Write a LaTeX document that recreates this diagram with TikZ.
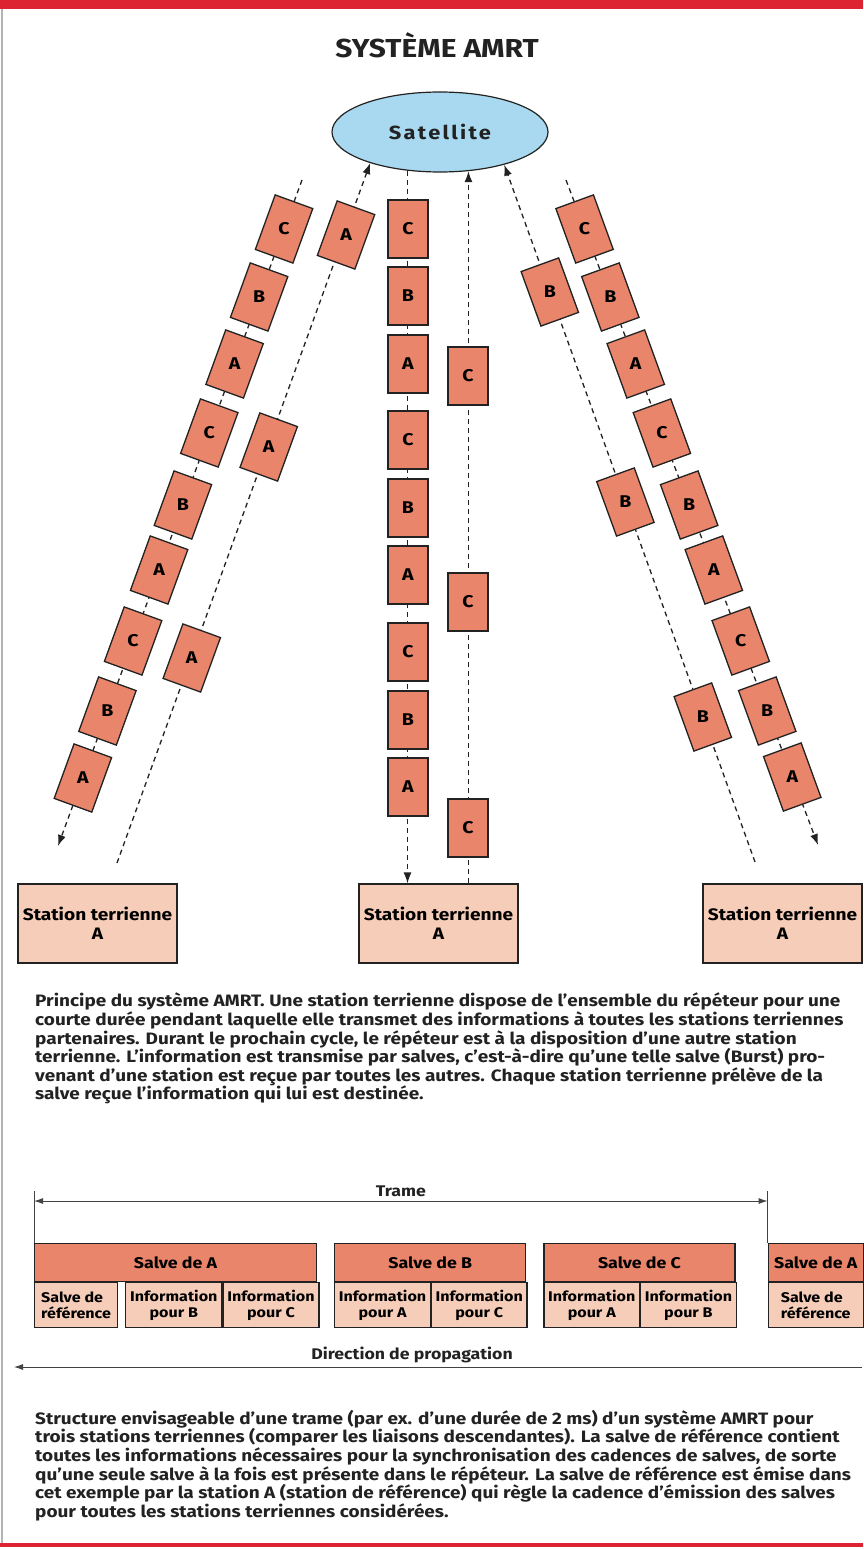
\documentclass[tikz,border=0pt]{standalone}
\usepackage{fontspec}
\setmainfont{Fira Sans}[FakeStretch=1.15]
\usetikzlibrary{arrows.meta, positioning, shapes.geometric, calc}
\definecolor{burstred}{HTML}{E8856B}
\definecolor{peach}{HTML}{F6CDB8}
\definecolor{skyblue}{HTML}{A9D9F0}
\definecolor{bandred}{HTML}{DD2332}
\definecolor{ink}{HTML}{222222}

\begin{document}
\begin{tikzpicture}[x=1pt, y=-1pt,
    burst/.style={
      rectangle,
      draw=ink,
      line width=1.3pt,
      fill=burstred,
      minimum width=40pt,
      minimum height=58pt,
      inner sep=0pt,
      font=\fontsize{17}{17}\selectfont\bfseries
    },
    burstL/.style={burst, rotate=-20},
    burstR/.style={burst, rotate=20},
    station/.style={
      rectangle,
      draw=ink,
      line width=1.3pt,
      fill=peach,
      minimum width=159pt,
      minimum height=79pt,
      align=center,
      font=\fontsize{16.6}{19.5}\selectfont\bfseries
    },
    link/.style={draw=ink, line width=1.3pt, dash pattern=on 5pt off 4pt},
    arr/.style={link, -{Latex[length=11pt, width=8pt]}},
    bar/.style={
      rectangle,
      draw=ink,
      line width=1.2pt,
      fill=burstred,
      minimum height=38pt,
      inner sep=0pt,
      font=\fontsize{15.5}{18}\selectfont\bfseries
    },
    part/.style={
      rectangle,
      draw=ink,
      line width=1.2pt,
      fill=peach,
      minimum height=45pt,
      inner sep=0pt,
      align=center,
      font=\fontsize{14}{16.5}\selectfont\bfseries
    },
    dim/.style={draw=ink!85, line width=0.9pt},
    lbl/.style={text=ink, font=\fontsize{15.4}{18}\selectfont\bfseries},
    caption/.style={
      anchor=north west,
      inner sep=0pt,
      align=left,
      text=ink,
      font=\fontsize{16.5}{18.6}\selectfont\bfseries
    }
  ]
  % page
  \fill[white] (0,0) rectangle (863,1549);
  \useasboundingbox (0,0) rectangle (863,1549);
  \fill[bandred] (0,0) rectangle (863,9);
  \fill[bandred] (0,1543) rectangle (863,1547);
  \draw[gray!60, line width=1.5pt] (2,9) -- (2,1543);

  \node[text=ink, font=\fontsize{26}{26}\selectfont\bfseries] (title) at (437,45) {SYSTÈME AMRT};

  \node[
    ellipse,
    draw=ink,
    line width=1.2pt,
    fill=skyblue,
    minimum width=216pt,
    minimum height=80pt,
    inner sep=0pt,
    text=ink,
    font=\fontsize{19}{19}\selectfont\bfseries\addfontfeatures{LetterSpace=12}
  ] (sat) at (440,132) {Satellite};

  \node[station] (stl) at (97.5,923.5) {Station terrienne\\A};
  \node[station] (stm) at (438.5,923.5) {Station terrienne\\A};
  \node[station] (str) at (782.5,923.5) {Station terrienne\\A};

  % links
  \coordinate (ldtop) at (302,180);
  \coordinate (ldend) at (58,846);
  \coordinate (lubot) at (117,863);
  \coordinate (rdtop) at (566,180);
  \coordinate (rdend) at (818,845);
  \coordinate (rubot) at (755,862);

  \draw[arr] (ldtop) -- (ldend);
  \draw[arr] (lubot) -- (sat.204);
  \draw[arr] (sat.230) -- (sat.230 |- stm.north);
  \draw[arr] (sat.306 |- stm.north) -- (sat.306);
  \draw[arr] (rubot) -- (sat.333);
  \draw[arr] (rdtop) -- (rdend);

  % bursts
  \foreach \lab/\yy [count=\i] in {C/229,B/297,A/364,C/433,B/505,A/570,C/641,B/711,A/778}
    \node[burstL] (ld\i) at ({302-0.3664*(\yy-180)},\yy) {\rotatebox{20}{\lab}};
  \foreach \yy [count=\i] in {235,447,658}
    \node[burstL] (lu\i) at ({117+0.3647*(863-\yy)},\yy) {\rotatebox{20}{A}};
  \foreach \lab/\yy [count=\i] in {C/229,B/296,A/364,C/440,B/508,A/575,C/652,B/720,A/787}
    \node[burst] (md\i) at (408,\yy) {\lab};
  \foreach \yy [count=\i] in {376,602,828}
    \node[burst] (mu\i) at (468,\yy) {C};
  \foreach \yy [count=\i] in {292,502,717}
    \node[burstR] (ru\i) at ({755-0.36*(862-\yy)},\yy) {\rotatebox{-20}{B}};
  \foreach \lab/\yy [count=\i] in {C/229,B/297,A/364,C/433,B/505,A/570,C/641,B/711,A/777}
    \node[burstR] (rd\i) at ({566+0.379*(\yy-180)},\yy) {\rotatebox{-20}{\lab}};

  \node[caption] (cap1) at (35,993) {Principe du système AMRT. Une station terrienne dispose de l'ensemble du répéteur pour une\\
    courte durée pendant laquelle elle transmet des informations à toutes les stations terriennes\\
    partenaires. Durant le prochain cycle, le répéteur est à la disposition d'une autre station\\
    terrienne. L'information est transmise par salves, c'est-à-dire qu'une telle salve (Burst) pro-\\
    venant d'une station est reçue par toutes les autres. Chaque station terrienne prélève de la\\
    salve reçue l'information qui lui est destinée.};

  % frame
  \node[bar, minimum width=282pt, anchor=north west] (sa1) at (34,1243) {Salve de A};
  \node[bar, minimum width=191pt, right=17pt of sa1] (sb) {Salve de B};
  \node[bar, minimum width=191pt, right=17pt of sb] (sc) {Salve de C};
  \node[bar, minimum width=95pt, right=32pt of sc] (sa2) {Salve de A};

  \node[part, align=left, minimum width=83pt, below right=0pt and 0pt of sa1.south west] (ref1) {Salve de\\référence};
  \node[part, minimum width=96pt, right=7pt of ref1] (ib1) {Information\\pour B};
  \node[part, minimum width=96pt, right=0pt of ib1] (ic1) {Information\\pour C};
  \node[part, minimum width=95.5pt, below right=0pt and 0pt of sb.south west] (ia2) {Information\\pour A};
  \node[part, minimum width=95.5pt, right=0pt of ia2] (ic2) {Information\\pour C};
  \node[part, minimum width=95.5pt, below right=0pt and 0pt of sc.south west] (ia3) {Information\\pour A};
  \node[part, minimum width=95.5pt, right=0pt of ia3] (ib3) {Information\\pour B};
  \node[part, align=left, minimum width=95pt, below right=0pt and 0pt of sa2.south west] (ref2) {Salve de\\référence};

  \draw[dim] (sa1.north west) -- ++(0,-52) coordinate (tkl);
  \draw[dim] (sa2.north west) -- ++(0,-52) coordinate (tkr);
  \draw[dim, {Latex[length=9pt, width=6pt]}-{Latex[length=9pt, width=6pt]}]
    ($(tkl)+(0,10)$) -- node[lbl, above=0pt] (trame) {Trame} ($(tkr)+(0,10)$);

  \coordinate (dirR) at (862,1367);
  \coordinate (dirL) at (14,1367);
  \draw[dim, -{Latex[length=9pt, width=6pt]}] (dirR) -- (dirL);
  \node[lbl] (dirlab) at (412,1355) {Direction de propagation};

  \node[caption] (cap2) at (35,1410) {Structure envisageable d'une trame (par ex. d'une durée de 2 ms) d'un système AMRT pour\\
    trois stations terriennes (comparer les liaisons descendantes). La salve de référence contient\\
    toutes les informations nécessaires pour la synchronisation des cadences de salves, de sorte\\
    qu'une seule salve à la fois est présente dans le répéteur. La salve de référence est émise dans\\
    cet exemple par la station A (station de référence) qui règle la cadence d'émission des salves\\
    pour toutes les stations terriennes considérées.};
\end{tikzpicture}
\end{document}
